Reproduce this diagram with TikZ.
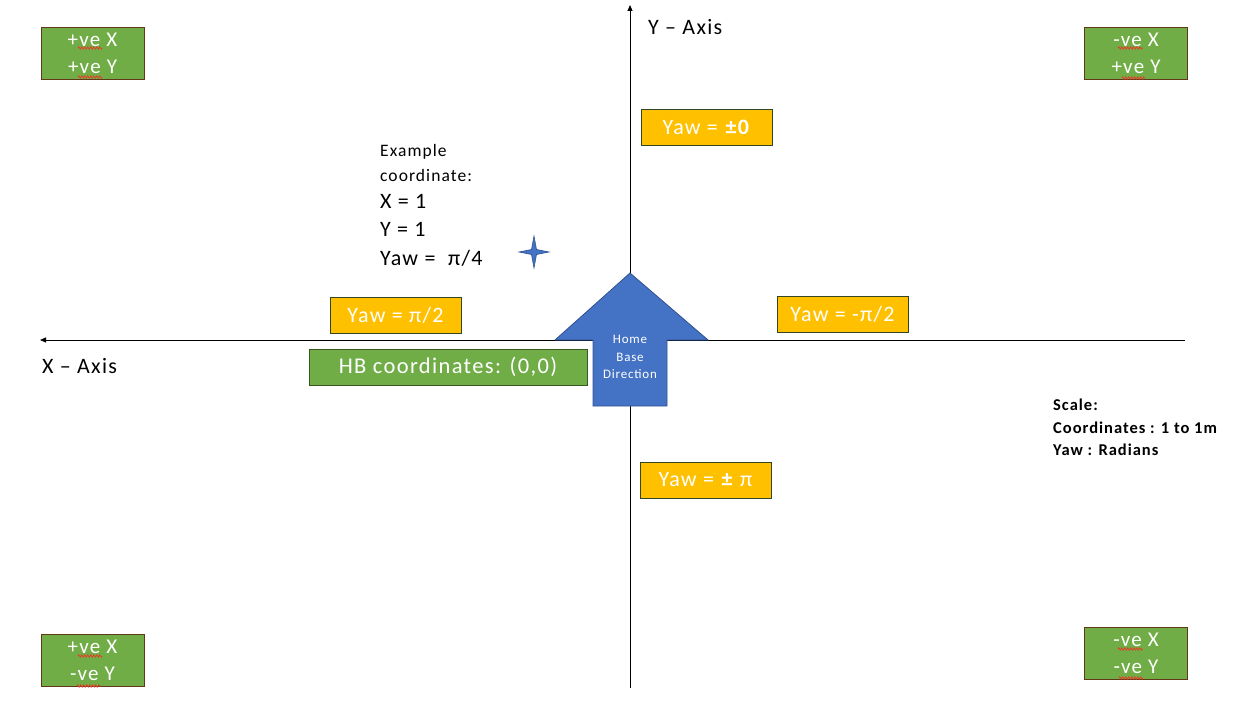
\documentclass[tikz,border=0pt]{standalone}
\usepackage{fontspec}
\setmainfont{Carlito}[LetterSpace=6]
\usetikzlibrary{arrows.meta,decorations.pathmorphing}
\definecolor{gfill}{RGB}{112,173,71}
\definecolor{gbrown}{RGB}{100,55,25}
\definecolor{gdark}{RGB}{56,87,35}
\definecolor{yfill}{RGB}{255,192,0}
\definecolor{ydark}{RGB}{50,70,35}
\definecolor{bfill}{RGB}{68,114,196}
\definecolor{bdark}{RGB}{47,82,143}
\definecolor{squig}{RGB}{230,60,40}
\tikzset{
  cornerbox/.style={draw=gbrown, line width=0.9pt, fill=gfill, text=white, minimum width=103pt, minimum height=52pt, inner sep=0pt, align=center, font=\fontsize{21}{27}\selectfont},
  yawbox/.style={draw=ydark, line width=0.9pt, fill=yfill, text=white, minimum width=131pt, minimum height=36pt, inner sep=0pt, font=\fontsize{22}{24}\selectfont},
  hbbox/.style={draw=gdark, line width=0.9pt, fill=gfill, text=white, minimum width=278pt, minimum height=36pt, inner sep=0pt, font=\fontsize{22.5}{24}\selectfont},
  axisline/.style={line width=0.9pt, -{Triangle[length=6pt,width=5pt]}},
  axislabel/.style={font=\fontsize{22}{24}\selectfont, anchor=west, inner sep=0pt},
  squiggle/.style={draw=squig, line width=0.8pt, decorate, decoration={zigzag, segment length=3pt, amplitude=1.1pt}},
  plain/.style={anchor=west, inner sep=0pt}
}
\begin{document}
\begin{tikzpicture}[x=1pt,y=-1pt]
\useasboundingbox (0,0) rectangle (1258,703);
% axes
\coordinate (ybot) at (630,688);
\coordinate (ytop) at (630,5);
\coordinate (xright) at (1185,340);
\coordinate (xleft) at (40,340);
\draw[axisline] (ybot) -- (ytop);
\draw[axisline] (xright) -- (xleft);
\node[axislabel] (ylab) at (648,27) {Y – Axis};
\node[axislabel] (xlab) at (42,366) {X – Axis};
% corner boxes
\node[cornerbox] (tl) at (92.5,53) {+ve X\\+ve Y};
\node[cornerbox] (tr) at (1136,53) {-ve X\\+ve Y};
\node[cornerbox] (bl) at (92.5,660.5) {+ve X\\-ve Y};
\node[cornerbox] (br) at (1136,653.5) {-ve X\\-ve Y};
% spelling squiggles
\draw[squiggle] (78,48) -- (102,48);
\draw[squiggle] (78,77) -- (102,77);
\draw[squiggle] (1118,48) -- (1143,48);
\draw[squiggle] (1122,78) -- (1145,78);
\draw[squiggle] (78,656) -- (102,656);
\draw[squiggle] (77,686) -- (100,686);
\draw[squiggle] (1118,649) -- (1143,649);
\draw[squiggle] (1119,678) -- (1143,678);
% yaw boxes
\node[yawbox] (y0) at (706.5,127.5) {Yaw = \textbf{±0}};
\node[yawbox] (ypi2) at (395.5,315.5) {Yaw = π/2};
\node[yawbox] (ympi2) at (842.5,314) {Yaw = -π/2};
\node[yawbox] (ypi) at (705.5,480) {Yaw = \textbf{±} π};
\node[hbbox] (hb) at (448,367) {HB coordinates: (0,0)};
% home base arrow
\draw[draw=bdark, line width=0.8pt, fill=bfill] (630,273) -- (708,340) -- (667,340) -- (667,406) -- (593,406) -- (593,340) -- (555,340) -- cycle;
\node[text=white, align=center, font=\fontsize{13}{17.5}\selectfont, inner sep=0pt] (hbtext) at (630,357) {Home\\Base\\Direction};
% example text
\node[plain, font=\fontsize{17.5}{20}\selectfont] (ex1) at (380,152) {Example};
\node[plain, font=\fontsize{17.5}{20}\selectfont] (ex2) at (380,175) {coordinate:};
\node[plain, font=\fontsize{22}{24}\selectfont] (ex3) at (380,201) {X = 1};
\node[plain, font=\fontsize{22}{24}\selectfont] (ex4) at (380,229) {Y = 1};
\node[plain, font=\fontsize{22}{24}\selectfont] (ex5) at (380,258) {Yaw =\ \ π/4};
% star
\draw[draw=bdark, line width=0.6pt, fill=bfill] (534,236) -- (536.5,249.5) -- (549,252) -- (536.5,254.5) -- (534,268) -- (531.5,254.5) -- (519,252) -- (531.5,249.5) -- cycle;
% scale text
\node[plain, font=\bfseries\fontsize{16.5}{18}\selectfont] (sc1) at (1053,405) {Scale:};
\node[plain, font=\bfseries\fontsize{16.5}{18}\selectfont] (sc2) at (1053,428) {Coordinates : 1 to 1m};
\node[plain, font=\bfseries\fontsize{16.5}{18}\selectfont] (sc3) at (1053,450) {Yaw : Radians};
\end{tikzpicture}
\end{document}
